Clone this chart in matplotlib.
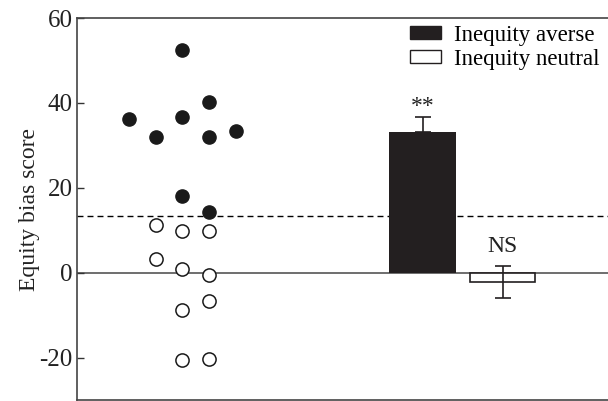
import matplotlib
matplotlib.use("Agg")
import matplotlib.pyplot as plt
from matplotlib.patches import Patch

# Data
averse_x = [3, 4, 1, 3, 2, 4, 5, 3, 4]
averse_y = [52.4, 40.1, 36.1, 36.7, 31.9, 32.0, 33.5, 18.0, 14.4]
neutral_x = [2, 3, 4, 2, 3, 4, 4, 3, 3, 4]
neutral_y = [11.3, 9.8, 9.8, 3.2, 0.8, -0.5, -6.7, -8.7, -20.6, -20.4]
groups = ["Inequity averse", "Inequity neutral"]
bar_x = [12, 15]
bar_means = [33.1, -2.2]
bar_err_low = [0, 3.7]
bar_err_high = [3.5, 3.8]
threshold = 13.4
sig_labels = ["**", "NS"]
sig_y = [36.6, 3.7]
yticks = [-20, 0, 20, 40, 60]

plt.rcParams['font.family'] = ['Liberation Serif', 'DejaVu Serif']

fig = plt.figure(figsize=(6.08, 4.01), dpi=100)
ax = fig.add_axes([0.1266, 0.0025, 0.8734, 0.9525])
ax.set_xlim(-0.95, 18.95)
ax.set_ylim(-30, 60)

ax.axhline(0, color='#555555', lw=1.2, zorder=1)
ax.axhline(threshold, color='black', lw=1.0, ls=(0, (4.3, 2.9)), zorder=1)

ax.plot(averse_x, averse_y, 'o', ms=9.5, color='#1a1a1a', mec='#1a1a1a', zorder=3)
ax.plot(neutral_x, neutral_y, 'o', ms=9.5, mfc='white', mec='#1a1a1a', mew=1.1, zorder=3)

ax.bar(bar_x[0], bar_means[0], width=2.5, color='#231f20', edgecolor='none', lw=0, zorder=2)
ax.bar(bar_x[1], bar_means[1], width=2.45, color='white', edgecolor='#231f20', lw=1.2, zorder=2)
ax.errorbar(bar_x[0], bar_means[0], yerr=[[bar_err_low[0]], [bar_err_high[0]]], fmt='none',
            ecolor='#231f20', elinewidth=1.2, capsize=6, capthick=1.2, zorder=1.5)
ax.errorbar(bar_x[1], bar_means[1], yerr=[[bar_err_low[1]], [bar_err_high[1]]], fmt='none',
            ecolor='#231f20', elinewidth=1.2, capsize=6, capthick=1.2, zorder=4)

ax.text(bar_x[0], sig_y[0], sig_labels[0], ha='center', va='bottom', fontsize=17, color='#222222')
ax.text(bar_x[1], sig_y[1], sig_labels[1], ha='center', va='bottom', fontsize=17, color='#222222')

ax.set_yticks(yticks)
ax.set_yticklabels([str(t) for t in yticks], fontsize=18)
ax.set_xticks([])
ax.tick_params(axis='y', direction='in', length=5, width=1, colors='#333333',
               labelcolor='#222222', pad=3)
for s in ['left', 'bottom', 'top']:
    ax.spines[s].set_color('#444444')
    ax.spines[s].set_linewidth(1.2)
ax.spines['right'].set_visible(False)

ax.set_ylabel("Equity bias score", fontsize=17, color='#222222', labelpad=0)

handles = [Patch(facecolor='#231f20', edgecolor='#231f20'),
           Patch(facecolor='white', edgecolor='#231f20')]
leg = ax.legend(handles, groups, loc='upper right', bbox_to_anchor=(1.015, 1.025),
                frameon=False, fontsize=16.5, handlelength=1.35, handleheight=0.5,
                handletextpad=0.6, labelspacing=0.15, borderaxespad=0.3)

fig.savefig("out.png", dpi=100)
